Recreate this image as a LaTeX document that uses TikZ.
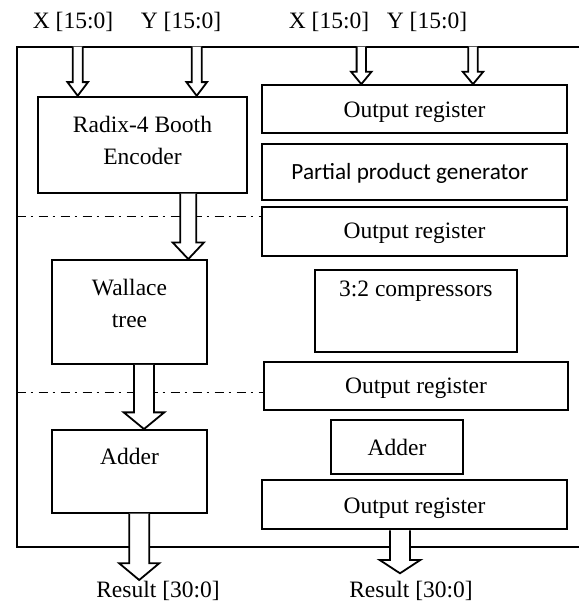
\documentclass[tikz,border=0pt]{standalone}
\usepackage{fontspec}
\setmainfont{Liberation Serif}
\newfontfamily\calib{Carlito}
\usetikzlibrary{calc}
\tikzset{
  box/.style={draw, line width=1.8pt, rectangle, inner sep=0pt},
  lbl/.style={inner sep=0pt, align=center, font=\fontsize{23.5}{32}\selectfont},
  dashdot/.style={line width=1.2pt, dash pattern=on 9pt off 5pt on 2pt off 6pt},
  frame/.style={line width=1.8pt},
  blk/.style={line width=1.8pt, fill=white, line join=miter}
}
% block arrow: start, tip, half shaft width, half head width, head length
\newcommand\blkarrow[5]{%
  \filldraw[blk] ($(#1)+(-#3,0)$) -- ($(#2)+(-#3,-#5)$) -- ($(#2)+(-#4,-#5)$) -- (#2)
    -- ($(#2)+(#4,-#5)$) -- ($(#2)+(#3,-#5)$) -- ($(#1)+(#3,0)$);}
\begin{document}
\begin{tikzpicture}[x=1pt,y=-1pt]
\useasboundingbox (0,0) rectangle (579,605);

% frame
\draw[frame] (579,46.7) -- (16.7,46.7) -- (16.7,546.7) -- (579,546.7);

% left column boxes
\node[box, minimum width=208.4pt, minimum height=96pt] (booth) at (142.5,144.7) {};
\node[lbl] (boothT) at (142.5,140) {Radix-4 Booth\\Encoder};
\node[box, minimum width=155.6pt, minimum height=104pt] (wal) at (129.5,312) {};
\node[lbl] (walT) at (129.5,303) {Wallace\\tree};
\node[box, minimum width=155.6pt, minimum height=82.7pt] (addl) at (129.5,471.3) {};
\node[lbl] (addlT) at (129.5,456) {Adder};

% right column boxes
\node[box, minimum width=305pt, minimum height=48.3pt] (or1) at (414.5,109.2) {};
\node[lbl] (or1T) at (414.5,112) {Output register};
\node[box, minimum width=305pt, minimum height=56pt] (ppg) at (414.5,172) {};
\node[lbl, font=\calib\fontsize{23.2}{28}\selectfont] (ppgT) at (410,173) {Partial product generator};
\node[box, minimum width=305pt, minimum height=48.4pt] (or2) at (414.5,231.5) {};
\node[lbl] (or2T) at (414.5,233.5) {Output register};
\node[box, minimum width=201.7pt, minimum height=82.3pt] (comp) at (415.8,311.2) {};
\node[lbl] (compT) at (415.8,291) {3:2 compressors};
\node[box, minimum width=304pt, minimum height=48pt] (or3) at (416,386) {};
\node[lbl] (or3T) at (416,388.5) {Output register};
\node[box, minimum width=132.6pt, minimum height=54pt] (addr) at (397,447) {};
\node[lbl] (addrT) at (397,447.5) {Adder};
\node[box, minimum width=305pt, minimum height=49.3pt] (or4) at (414.5,504.7) {};
\node[lbl] (or4T) at (414.5,508) {Output register};

% dash-dot separators
\coordinate (d1) at (16.7,216.7);
\coordinate (d2) at (16.7,392.7);
\draw[dashdot] (d1) -- (or2.west |- d1);
\draw[dashdot] (d2) -- (or3.west |- d2);

% input labels
\node[lbl] (xl) at (73,22) {X [15:0]};
\node[lbl] (yl) at (181,22) {Y [15:0]};
\node[lbl] (xr) at (329,22) {X [15:0]};
\node[lbl] (yr) at (427,22) {Y [15:0]};

% input arrows
\coordinate (ax) at (77.7,46.7);
\coordinate (ay) at (196.7,46.7);
\coordinate (bx) at (361.3,46.7);
\coordinate (by) at (473,46.7);
\blkarrow{ax}{booth.north -| ax}{5}{10.3}{13.7}
\blkarrow{ay}{booth.north -| ay}{5}{10.3}{13.7}
\blkarrow{bx}{or1.north -| bx}{4.7}{10.3}{12.5}
\blkarrow{by}{or1.north -| by}{4.7}{10.3}{12.5}

% internal arrows
\coordinate (c1) at (188.3,0);
\coordinate (c2) at (144,0);
\coordinate (c3) at (139.2,0);
\coordinate (c4) at (400,0);
\blkarrow{booth.south -| c1}{wal.north -| c1}{8}{15.7}{16.7}
\blkarrow{wal.south -| c2}{addl.north -| c2}{10}{20.3}{16.7}

% outputs
\coordinate (r1) at (139.2,580);
\coordinate (r2) at (400,573.3);
\blkarrow{addl.south -| c3}{r1}{10}{20}{16.7}
\blkarrow{or4.south -| c4}{r2}{10}{20.3}{13.3}
\node[lbl] (res1) at (158,591) {Result [30:0]};
\node[lbl] (res2) at (411,591) {Result [30:0]};
\end{tikzpicture}
\end{document}
